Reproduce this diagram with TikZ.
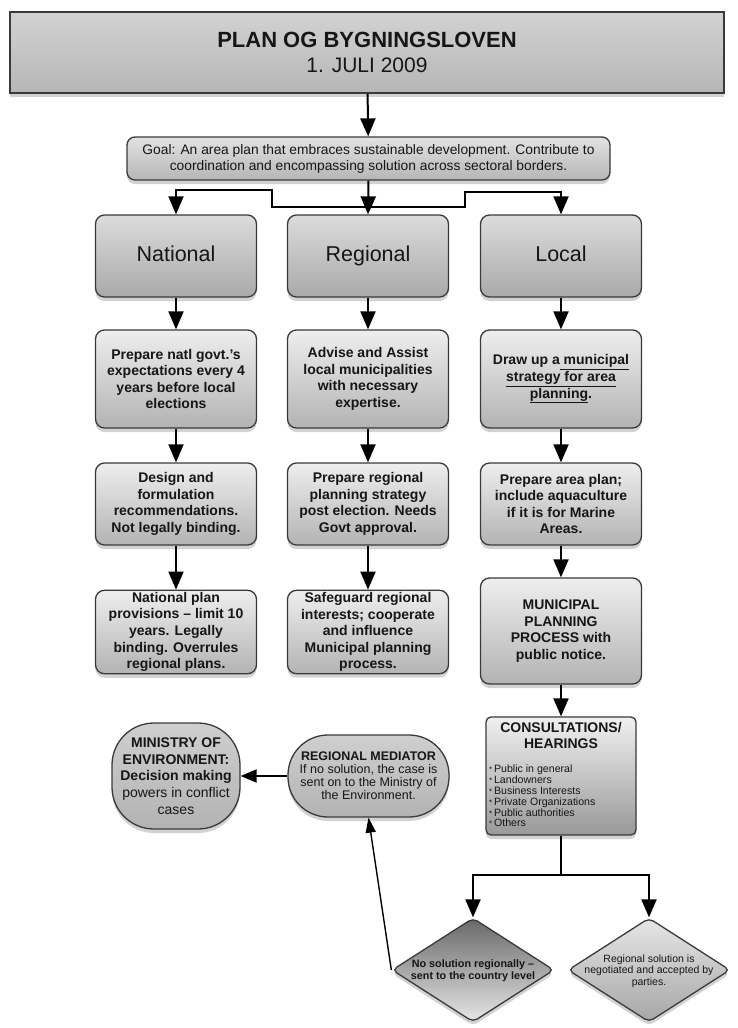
\documentclass[tikz,border=0pt]{standalone}
\usepackage{fontspec}
\setmainfont{Liberation Sans}
\usetikzlibrary{arrows.meta,shapes.geometric,shadows}
\definecolor{bordc}{HTML}{3A3A3A}
\definecolor{txtc}{HTML}{161616}
\definecolor{boxtop}{HTML}{EEEEEE}
\definecolor{boxbot}{HTML}{B3B3B3}
\definecolor{hdrtop}{HTML}{DCDCDC}
\definecolor{hdrbot}{HTML}{A9A9A9}
\definecolor{goaltop}{HTML}{E2E2E2}
\definecolor{goalbot}{HTML}{B6B6B6}
\definecolor{tittop}{HTML}{D2D2D2}
\definecolor{titbot}{HTML}{B6B6B6}
\definecolor{ovtop}{HTML}{CFCFCF}
\definecolor{ovbot}{HTML}{B3B3B3}
\definecolor{constop}{HTML}{F0F0F0}
\definecolor{consbot}{HTML}{999999}
\definecolor{dAtop}{HTML}{686868}
\definecolor{dAbot}{HTML}{E6E6E6}
\definecolor{dBtop}{HTML}{E6E6E6}
\definecolor{dBbot}{HTML}{A6A6A6}
\newcommand{\bul}{{\fontsize{8}{8}\selectfont*}\,}
\tikzset{
  shad/.style={drop shadow={shadow xshift=0pt,shadow yshift=-4pt,opacity=.35}},
  basebox/.style={draw=bordc, line width=1.3pt, text=txtc, align=center, inner sep=2pt, shad},
  titlebox/.style={basebox, rectangle, line width=1.6pt, minimum width=714pt, minimum height=81pt,
     top color=tittop, bottom color=titbot, font=\fontsize{21}{25}\selectfont},
  goalbox/.style={basebox, rectangle, rounded corners=8pt, minimum width=483pt, minimum height=43pt,
     top color=goaltop, bottom color=goalbot, font=\fontsize{13.8}{16}\selectfont},
  hdrbox/.style={basebox, rectangle, rounded corners=9pt, minimum width=161pt, minimum height=82pt,
     top color=hdrtop, bottom color=hdrbot, font=\fontsize{21.5}{24}\selectfont,
     text height=15.5pt, text depth=4.5pt},
  rowbox/.style={basebox, rectangle, rounded corners=9pt, minimum width=161pt, minimum height=82pt,
     top color=boxtop, bottom color=boxbot, font=\fontsize{14}{16.6}\selectfont\bfseries},
  consbox/.style={basebox, rectangle, rounded corners=5pt, minimum width=150pt, minimum height=118pt,
     top color=constop, bottom color=consbot},
  ovbox/.style={basebox, rectangle, top color=ovtop, bottom color=ovbot},
  dshape/.style={draw=bordc, line width=1.3pt, diamond, inner sep=0pt, minimum width=162pt,
     minimum height=104pt, rounded corners=5pt, shad},
  plain/.style={text=txtc, align=center, inner sep=0pt},
  conn/.style={line width=2pt, -{Triangle[length=18pt,width=15pt]}},
  thinconn/.style={line width=1.4pt, -{Triangle[length=15pt,width=10pt]}},
}
\begin{document}
\begin{tikzpicture}[x=1pt,y=-1pt]
\fill[white] (0,0) rectangle (737,1028);
\useasboundingbox (0,0) rectangle (737,1028);

% title and goal
\node[titlebox] (title) at (367,52.5) {{\fontsize{22}{25}\selectfont\bfseries PLAN OG BYGNINGSLOVEN}\\1. JULI 2009};
\node[goalbox] (goal) at (368.5,158.5) {Goal: An area plan that embraces sustainable development. Contribute to\\coordination and encompassing solution across sectoral borders.};

% headers
\node[hdrbox] (nat) at (176,256) {National};
\node[hdrbox] (reg) at (368,256) {Regional};
\node[hdrbox] (loc) at (561,256) {Local};

% row 2
\node[rowbox, minimum height=98pt] (n2) at (176,379) {Prepare natl govt.'s\\expectations every 4\\years before local\\elections};
\node[rowbox, minimum height=98pt] (r2) at (368,379) {Advise and Assist\\local municipalities\\with necessary\\expertise.};
\node[rowbox, minimum height=98pt] (l2) at (561,379) {Draw up a\underline{\ municipal}\\\underline{strategy for area}\\\underline{planning}.};

% row 3
\node[rowbox] (n3) at (176,504) {Design and\\formulation\\recommendations.\\Not legally binding.};
\node[rowbox] (r3) at (368,504) {Prepare regional\\planning strategy\\post election. Needs\\Govt approval.};
\node[rowbox] (l3) at (561,504) {Prepare area plan;\\include aquaculture\\if it is for Marine\\Areas.};

% row 4
\node[rowbox] (n4) at (176,632) {National plan\\provisions -- limit 10\\years. Legally\\binding. Overrules\\regional plans.};
\node[rowbox] (r4) at (368,632) {Safeguard regional\\interests; cooperate\\and influence\\Municipal planning\\process.};
\node[rowbox, minimum height=106pt] (l4) at (561,631) {MUNICIPAL\\PLANNING\\PROCESS with\\public notice.};

% consultations
\node[consbox] (cons) at (561,776) {};
\node[plain, anchor=north, font=\fontsize{14}{16}\selectfont\bfseries] (constitle) at (561,722) {CONSULTATIONS/\\HEARINGS};
\node[plain, anchor=north west, align=left, font=\fontsize{10.6}{10.8}\selectfont] (conslist) at (489,765)
 {\bul Public in general\\\bul Landowners\\\bul Business Interests\\\bul Private Organizations\\\bul Public authorities\\\bul Others};

% ministry and mediator
\node[ovbox, rounded corners=42pt, minimum width=128pt, minimum height=106pt, font=\fontsize{14}{16.7}\selectfont] (min) at (176,776)
 {\bfseries MINISTRY OF\\\bfseries ENVIRONMENT:\\\bfseries Decision making\\\mdseries powers in conflict\\\mdseries cases};
\node[ovbox, rounded corners=40pt, minimum width=161pt, minimum height=82pt, font=\fontsize{12.5}{13}\selectfont] (med) at (368.5,776)
 {\bfseries REGIONAL MEDIATOR\\\mdseries If no solution, the case is\\\mdseries sent on to the Ministry of\\\mdseries the Environment.};

% diamonds
\node[dshape, top color=dAtop, bottom color=dAbot] (d1) at (473,970) {};
\node[plain, font=\fontsize{10.8}{11.7}\selectfont\bfseries] (d1t) at (473,971) {No solution regionally --\\sent to the country level};
\node[dshape, top color=dBtop, bottom color=dBbot] (d2) at (649,970) {};
\node[plain, font=\fontsize{10.5}{11.3}\selectfont] (d2t) at (649,971) {Regional solution is\\negotiated and accepted by\\parties.};

% connectors
\draw[conn] (title) -- (goal);
\coordinate (busc) at (368,207);
\coordinate (busl) at (272,207);
\coordinate (busla) at (272,190);
\coordinate (busr) at (465,207);
\coordinate (busra) at (465,192);
\draw[conn] (goal.south) -- (reg.north);
\draw[conn] (busc) -- (busl) -- (busla) -| (nat.north);
\draw[conn] (busc) -- (busr) -- (busra) -| (loc.north);

\draw[conn] (nat) -- (n2);
\draw[conn] (reg) -- (r2);
\draw[conn] (loc) -- (l2);
\draw[conn] (n2) -- (n3);
\draw[conn] (r2) -- (r3);
\draw[conn] (l2) -- (l3);
\draw[conn] (n3) -- (n4);
\draw[conn] (r3) -- (r4);
\draw[conn] (l3) -- (l4);
\draw[conn] (l4) -- (cons);

\coordinate (split) at (561,875);
\draw[conn] (cons.south) -- (split) -| (d1.north);
\draw[conn] (split) -| (d2.north);

\draw[thinconn] (d1.west) -- (med.south);
\draw[line width=2pt, -{Triangle[length=16pt,width=13pt]}] (med.west) -- (min.east);
\end{tikzpicture}
\end{document}
